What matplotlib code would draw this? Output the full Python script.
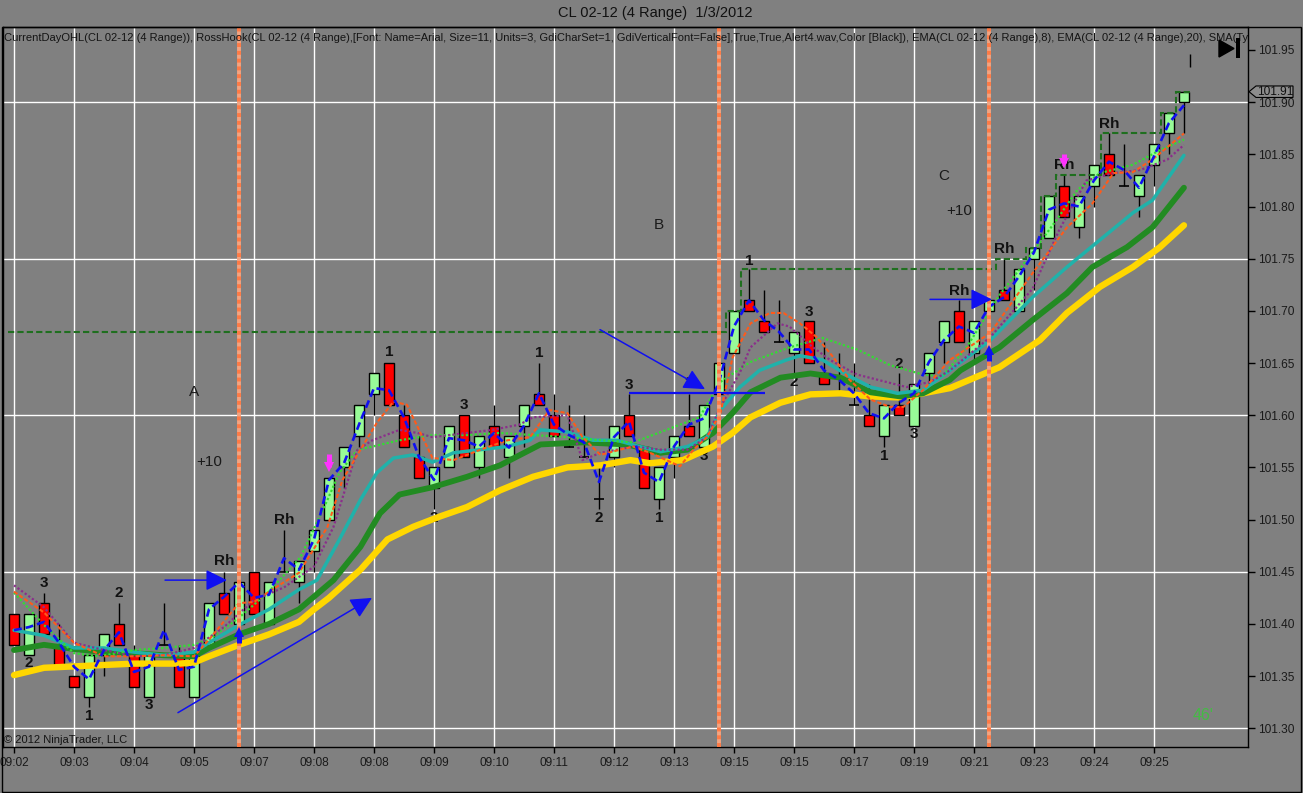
#######################################################################
# CL 02-12 (4 Range)  1/3/2012 - range bar chart in NinjaTrader style
#######################################################################

import matplotlib
matplotlib.use("Agg")
import matplotlib.pyplot as plt
from matplotlib.patches import Rectangle, Polygon

plt.rcParams['font.family'] = ['Liberation Sans', 'DejaVu Sans']

#######################################################################
# Data
#######################################################################
opens = [101.41, 101.37, 101.42, 101.38, 101.35, 101.33, 101.37, 101.40, 101.37, 101.33,
         101.38, 101.37, 101.33, 101.38, 101.43, 101.40, 101.45, 101.40, 101.45, 101.44,
         101.47, 101.50, 101.55, 101.58, 101.62, 101.65, 101.60, 101.56, 101.53, 101.55,
         101.60, 101.55, 101.59, 101.56, 101.59, 101.62, 101.60, 101.57, 101.56, 101.52,
         101.56, 101.60, 101.57, 101.52, 101.56, 101.59, 101.57, 101.62, 101.66, 101.71,
         101.69, 101.67, 101.66, 101.69, 101.64, 101.62, 101.61, 101.60, 101.58, 101.61,
         101.59, 101.64, 101.67, 101.70, 101.66, 101.70, 101.72, 101.70, 101.75, 101.77,
         101.82, 101.78, 101.82, 101.85, 101.82, 101.81, 101.84, 101.87, 101.90]
highs = [101.41, 101.41, 101.43, 101.40, 101.35, 101.37, 101.39, 101.42, 101.38, 101.37,
         101.42, 101.38, 101.37, 101.42, 101.45, 101.44, 101.45, 101.44, 101.49, 101.46,
         101.49, 101.54, 101.57, 101.61, 101.64, 101.65, 101.61, 101.58, 101.55, 101.59,
         101.60, 101.58, 101.61, 101.58, 101.61, 101.65, 101.62, 101.61, 101.60, 101.55,
         101.59, 101.62, 101.57, 101.55, 101.58, 101.62, 101.61, 101.65, 101.70, 101.74,
         101.72, 101.71, 101.68, 101.69, 101.67, 101.66, 101.65, 101.63, 101.61, 101.64,
         101.63, 101.66, 101.69, 101.71, 101.69, 101.71, 101.75, 101.74, 101.76, 101.81,
         101.83, 101.81, 101.84, 101.87, 101.86, 101.83, 101.86, 101.89, 101.91]
lows = [101.38, 101.37, 101.39, 101.36, 101.34, 101.32, 101.35, 101.38, 101.34, 101.33,
        101.38, 101.34, 101.33, 101.38, 101.41, 101.40, 101.41, 101.40, 101.45, 101.42,
        101.45, 101.50, 101.53, 101.57, 101.60, 101.61, 101.57, 101.54, 101.51, 101.55,
        101.56, 101.54, 101.57, 101.54, 101.57, 101.61, 101.58, 101.57, 101.56, 101.51,
        101.55, 101.58, 101.53, 101.51, 101.54, 101.58, 101.57, 101.61, 101.66, 101.70,
        101.68, 101.67, 101.64, 101.65, 101.63, 101.62, 101.61, 101.59, 101.57, 101.60,
        101.59, 101.62, 101.65, 101.67, 101.65, 101.70, 101.71, 101.70, 101.72, 101.77,
        101.79, 101.77, 101.80, 101.83, 101.82, 101.79, 101.82, 101.85, 101.87]
closes = [101.38, 101.41, 101.39, 101.36, 101.34, 101.37, 101.39, 101.38, 101.34, 101.37,
          101.38, 101.34, 101.37, 101.42, 101.41, 101.44, 101.41, 101.44, 101.45, 101.46,
          101.49, 101.54, 101.57, 101.61, 101.64, 101.61, 101.57, 101.54, 101.55, 101.59,
          101.56, 101.58, 101.57, 101.58, 101.61, 101.61, 101.58, 101.57, 101.56, 101.52,
          101.59, 101.58, 101.53, 101.55, 101.58, 101.58, 101.61, 101.65, 101.70, 101.70,
          101.68, 101.67, 101.68, 101.65, 101.63, 101.62, 101.61, 101.59, 101.61, 101.60,
          101.63, 101.66, 101.69, 101.67, 101.69, 101.71, 101.71, 101.74, 101.76, 101.81,
          101.79, 101.81, 101.84, 101.83, 101.82, 101.83, 101.86, 101.89, 101.91]

# fast dashed blue line, one point per bar
blue_val = [101.394, 101.397, 101.402, 101.382, 101.359, 101.347, 101.375, 101.392, 101.354, 101.359,
            101.394, 101.356, 101.359, 101.414, 101.426, 101.440, 101.425, 101.428, 101.463, 101.452,
            101.481, 101.538, 101.554, 101.591, 101.626, 101.624, 101.598, 101.560, 101.538, 101.578,
            101.576, 101.570, 101.583, 101.569, 101.590, 101.621, 101.591, 101.581, 101.574, 101.536,
            101.579, 101.594, 101.545, 101.536, 101.570, 101.591, 101.597, 101.632, 101.685, 101.710,
            101.691, 101.680, 101.663, 101.663, 101.643, 101.634, 101.621, 101.602, 101.597, 101.612,
            101.621, 101.651, 101.672, 101.685, 101.679, 101.704, 101.713, 101.733, 101.756, 101.797,
            101.803, 101.800, 101.825, 101.843, 101.835, 101.818, 101.848, 101.880, 101.897]

# moving averages: (bar position, price)
yellow_pos = [0, 2, 5, 8, 11, 12, 13, 15, 17, 19, 20, 21, 23.1, 24.9, 26.6, 28.4, 30.2, 32.4, 34.6,
              36.9, 39.1, 41.1, 42.4, 44.6, 46.6, 47.9, 49.1, 51.1, 53.1, 55.1, 57.1, 59.1, 60.6,
              62.4, 65.7, 68.4, 70.2, 72.4, 74.6, 76.4, 78]
yellow_val = [101.351, 101.358, 101.360, 101.362, 101.362, 101.363, 101.369, 101.380, 101.390,
              101.402, 101.414, 101.425, 101.452, 101.481, 101.493, 101.503, 101.512, 101.528,
              101.541, 101.550, 101.552, 101.557, 101.554, 101.557, 101.570, 101.583, 101.598,
              101.612, 101.620, 101.621, 101.618, 101.617, 101.621, 101.626, 101.646, 101.672,
              101.698, 101.723, 101.742, 101.761, 101.782]

green_pos = [0, 2, 4, 6, 8, 10, 12, 13, 15, 17, 19, 21.3, 23.1, 24.4, 25.7, 27.9, 30.2, 32.4, 35.1,
             37.9, 40.9, 43.1, 44.9, 46.6, 47.9, 49.1, 51.1, 53.1, 55.1, 57.1, 59.1, 60.6, 62.4,
             63.1, 65.7, 67.9, 70.2, 71.9, 74.2, 75.9, 78]
green_val = [101.375, 101.380, 101.376, 101.373, 101.372, 101.370, 101.369, 101.377, 101.390,
             101.400, 101.414, 101.442, 101.474, 101.506, 101.524, 101.531, 101.541, 101.552,
             101.572, 101.574, 101.572, 101.564, 101.567, 101.583, 101.602, 101.622, 101.636,
             101.640, 101.636, 101.622, 101.618, 101.621, 101.634, 101.643, 101.665, 101.691,
             101.717, 101.742, 101.761, 101.780, 101.818]

teal_pos = [0, 2, 4, 6, 8, 10, 12, 13, 15, 17, 19, 20.2, 21.7, 23.1, 24.2, 25.3, 26.6, 27.9, 29.3,
            31.1, 32.9, 34.4, 35.1, 36.9, 38.6, 40.2, 41.7, 43.1, 44.9, 46.2, 47.1, 48.4, 49.7,
            51.5, 52.4, 53.9, 55.5, 57.1, 58.9, 60.6, 62.4, 65.1, 67.9, 70.2, 72.4, 74.6, 75.9, 78]
teal_val = [101.394, 101.389, 101.377, 101.377, 101.373, 101.370, 101.373, 101.382, 101.399,
            101.414, 101.433, 101.442, 101.481, 101.519, 101.545, 101.559, 101.562, 101.555,
            101.564, 101.567, 101.570, 101.576, 101.586, 101.584, 101.576, 101.576, 101.570,
            101.565, 101.570, 101.579, 101.605, 101.627, 101.643, 101.653, 101.657, 101.653,
            101.639, 101.627, 101.621, 101.624, 101.643, 101.672, 101.713, 101.742, 101.768,
            101.794, 101.806, 101.849]

orange_pos = [0, 2, 4, 6, 8, 10, 12, 13, 15, 16, 17, 19, 20.9, 21.9, 23.1, 24.2, 25.3, 26.2, 27.1,
              27.9, 29.3, 31.1, 32.9, 34.4, 35.7, 36.9, 37.9, 39.1, 40.4, 41.3, 42.4, 43.5, 44.4,
              45.3, 46.2, 47.1, 47.9, 49.1, 50.4, 51.3, 52.4, 53.5, 54.6, 55.7, 57.1, 58.4, 59.3,
              60.6, 62.4, 65.1, 67.9, 70.2, 71.9, 73.3, 74.6, 75.9, 78]
orange_val = [101.431, 101.411, 101.382, 101.369, 101.369, 101.370, 101.369, 101.385, 101.420,
              101.421, 101.431, 101.449, 101.493, 101.538, 101.567, 101.593, 101.613, 101.610,
              101.583, 101.559, 101.557, 101.567, 101.576, 101.579, 101.605, 101.602, 101.579,
              101.562, 101.567, 101.570, 101.564, 101.557, 101.551, 101.567, 101.579, 101.602,
              101.655, 101.688, 101.698, 101.698, 101.688, 101.675, 101.656, 101.634, 101.615,
              101.608, 101.608, 101.624, 101.653, 101.679, 101.736, 101.780, 101.803, 101.832,
              101.833, 101.845, 101.870]

purple_pos = [0, 2, 4, 6, 8, 10, 12, 14, 16, 18, 20, 21.3, 22.9, 23.9, 25.7, 26.9, 27.9, 30.2, 31.9,
              33.7, 34.6, 36.9, 37.9, 39.1, 41.3, 43.1, 44.9, 46.2, 47.1, 48.4, 49.1, 50.9, 51.7,
              53.1, 54.4, 56.2, 58.4, 59.5, 61.1, 62.4, 65.1, 67.9, 69.7, 71.5, 73.3, 75.1, 76.9, 78]
purple_val = [101.437, 101.416, 101.382, 101.375, 101.369, 101.370, 101.377, 101.397, 101.423,
              101.435, 101.455, 101.493, 101.567, 101.576, 101.586, 101.583, 101.579, 101.583,
              101.586, 101.591, 101.598, 101.600, 101.557, 101.564, 101.570, 101.567, 101.567,
              101.579, 101.608, 101.641, 101.665, 101.688, 101.685, 101.667, 101.653, 101.639,
              101.631, 101.627, 101.632, 101.643, 101.675, 101.721, 101.778, 101.825, 101.832,
              101.835, 101.845, 101.859]

lgreen_pos = [0, 2, 4, 5.7, 8, 10, 12, 13, 15, 17, 19.1, 20.9, 21.7, 22.9, 23.9, 25.7, 27.9, 30.2,
              32.4, 34.6, 36.9, 39.1, 41.3, 45.7, 47.1, 49.1, 51.7, 53.9, 56.2, 58.4, 60.6, 61.9,
              63.5, 65.7, 67.9, 69.5, 70.9, 72.4, 74.6, 76.4, 78]
lgreen_val = [101.430, 101.399, 101.372, 101.369, 101.375, 101.377, 101.380, 101.385, 101.406,
              101.431, 101.464, 101.519, 101.545, 101.567, 101.570, 101.576, 101.581, 101.581,
              101.583, 101.581, 101.579, 101.576, 101.574, 101.598, 101.632, 101.651, 101.665,
              101.674, 101.663, 101.648, 101.639, 101.637, 101.665, 101.715, 101.756, 101.787,
              101.816, 101.832, 101.840, 101.854, 101.864]

# current day high (stepped dashed line)
cdh_edges = [-0.4, 47.5, 48.5, 65.5, 67.5, 68.5, 69.5, 72.5, 76.5, 77.5, 78.5]
cdh_levels = [101.68, 101.70, 101.74, 101.75, 101.76, 101.81, 101.83, 101.87, 101.89, 101.91]

# x axis labels every 4 bars
time_labels = ['09:02', '09:03', '09:04', '09:05', '09:07', '09:08', '09:08', '09:09', '09:10',
               '09:11', '09:12', '09:13', '09:15', '09:15', '09:17', '09:19', '09:21', '09:23',
               '09:24', '09:25']
price_ticks = [101.30, 101.35, 101.40, 101.45, 101.50, 101.55, 101.60, 101.65, 101.70,
               101.75, 101.80, 101.85, 101.90, 101.95]
price_grid = [101.30, 101.45, 101.60, 101.75, 101.90]

# session markers (vertical dotted lines)
session_bars = [15, 47, 65]

# RossHook labels: bar, price, text
hook_bars = [2, 1, 5, 7, 9, 14, 18, 25, 28, 30, 35, 39, 41, 43, 45, 46, 49, 52, 53,
             58, 59, 60, 63, 66, 70, 73]
hook_prices = [101.439, 101.363, 101.312, 101.430, 101.322, 101.460, 101.500, 101.661, 101.502,
               101.610, 101.660, 101.502, 101.629, 101.502, 101.631, 101.561, 101.748, 101.632,
               101.699, 101.561, 101.649, 101.582, 101.719, 101.759, 101.840, 101.879]
hook_texts = ['3', '2', '1', '2', '3', 'Rh', 'Rh', '1', '2', '3', '1', '2', '3', '1', '2', '3',
              '1', '2', '3', '1', '2', '3', 'Rh', 'Rh', 'Rh', 'Rh']

# hand notes
note_bars = [12, 13, 43, 62, 63]
note_prices = [101.622, 101.555, 101.782, 101.829, 101.796]
note_texts = ['A', '+10', 'B', 'C', '+10']

# drawn arrows: start bar, start price, end bar, end price
arrow_x0 = [10.07, 10.93, 39.07, 61.07]
arrow_y0 = [101.442, 101.315, 101.682, 101.711]
arrow_x1 = [14.2, 23.87, 46.07, 65.2]
arrow_y1 = [101.442, 101.425, 101.625, 101.711]

# small block arrows: bar, tail price, tip price
up_arrow_bars = [15, 65]
up_arrow_from = [101.382, 101.652]
up_arrow_to = [101.397, 101.667]
down_arrow_bars = [21, 70]
down_arrow_from = [101.563, 101.850]
down_arrow_to = [101.546, 101.837]

#######################################################################
# Style
#######################################################################
W, H = 1303, 793
BG = '#808080'
UP_COLOR = '#98fb98'
DOWN_COLOR = '#ff0000'
BLUE = '#1010f0'
MAGENTA = '#ff33ff'
BODY_W = 0.66

#######################################################################
# Functions
#######################################################################
def draw_candles(ax):
    """ Range bars: wick, body and doji tick """
    for i, (o, h, l, c) in enumerate(zip(opens, highs, lows, closes)):
        ax.vlines(i, l, h, color='black', lw=1, zorder=2)
        if abs(o - c) < 1e-6:
            ax.hlines(c, i - BODY_W / 2, i + BODY_W / 2, color='black', lw=1.2, zorder=2.5)
        else:
            col = UP_COLOR if c > o else DOWN_COLOR
            ax.add_patch(Rectangle((i - BODY_W / 2, min(o, c)), BODY_W, abs(c - o),
                                   fc=col, ec='black', lw=1, zorder=2.5))


def draw_arrow(ax, x0, y0, x1, y1):
    """ thin line with a big filled head """
    ax.annotate('', xy=(x1, y1), xytext=(x0, y0), zorder=7,
                arrowprops=dict(arrowstyle='-|>,head_length=0.65,head_width=0.32',
                                mutation_scale=20, color=BLUE, lw=1.1, shrinkA=0, shrinkB=0))


def draw_block_arrow(ax, x, y0, y1, color):
    """ short thick vertical arrow: shaft + triangle head """
    sign = 1 if y1 > y0 else -1
    head = 0.0045
    ax.plot([x, x], [y0, y1 - sign * head], color=color, lw=3.6, solid_capstyle='butt', zorder=7)
    ax.plot([x], [y1 - sign * head], marker='^' if sign > 0 else 'v', markersize=6.5,
            color=color, markeredgewidth=0, zorder=7)


def px_to_axes_x(px):
    """ figure pixel column -> axes fraction (axes span 3..1248 px) """
    return (px - 3) / 1245


#######################################################################
# Figure
#######################################################################
fig = plt.figure(figsize=(W / 100, H / 100), dpi=100, facecolor=BG)
ax = fig.add_axes([3 / W, 1 - 747 / H, (1248 - 3) / W, (747 - 27) / H])
ax.set_facecolor(BG)
ax.set_xlim(-0.733, 82.27)
ax.set_ylim(101.2821, 101.9720)

# grid
for p in price_grid:
    ax.axhline(p, color='white', lw=1, zorder=0.5)
xt = list(range(0, 4 * len(time_labels), 4))
for x in xt:
    ax.axvline(x, color='white', lw=1, zorder=0.5)

draw_candles(ax)

# hook labels under the lines
for b, p, t in zip(hook_bars, hook_prices, hook_texts):
    ax.text(b, p, t, ha='center', va='center', fontsize=11, fontweight='bold',
            color='#111111', zorder=3)
for b, p, t in zip(note_bars, note_prices, note_texts):
    ax.text(b, p, t, ha='center', va='center', fontsize=11, color='#1a1a1a', zorder=3)

# moving averages
ax.plot(yellow_pos, yellow_val, color='#ffd700', lw=4.6, solid_capstyle='round', zorder=4)
ax.plot(green_pos, green_val, color='#228b22', lw=4.2, solid_capstyle='round', zorder=4.1)
ax.plot(teal_pos, teal_val, color='#20b2aa', lw=2.5, solid_capstyle='round', zorder=4.2)
ax.plot(lgreen_pos, lgreen_val, color='#33dd33', lw=1.6, linestyle=(0, (1, 1)), zorder=4.3)
ax.plot(purple_pos, purple_val, color='#8b2f8b', lw=1.6, linestyle=(0, (1, 1)), zorder=4.4)
ax.plot(orange_pos, orange_val, color='#ff5a1a', lw=1.5, linestyle=(0, (2, 1)), zorder=4.5)
ax.plot(range(len(blue_val)), blue_val, color=BLUE, lw=1.9, linestyle=(0, (3, 1.5)), zorder=5)

# current day high
ax.stairs(cdh_levels, cdh_edges, baseline=None, color='#1f6f1f', lw=1.5,
          linestyle=(0, (3, 1.5)), zorder=4.6)

# session markers
for b in session_bars:
    ax.axvline(b, color='#f2a482', lw=2.8, zorder=6)
    ax.axvline(b, color='#ff7a45', lw=2.8, linestyle=(0, (1, 1)), zorder=6.1)

# arrows
for x0, y0, x1, y1 in zip(arrow_x0, arrow_y0, arrow_x1, arrow_y1):
    draw_arrow(ax, x0, y0, x1, y1)
ax.hlines(arrow_y1[2] - 0.004, 41, 50.07, color=BLUE, lw=1.6, zorder=6)
for b, y0, y1 in zip(up_arrow_bars, up_arrow_from, up_arrow_to):
    draw_block_arrow(ax, b, y0, y1, BLUE)
for b, y0, y1 in zip(down_arrow_bars, down_arrow_from, down_arrow_to):
    draw_block_arrow(ax, b, y0, y1, MAGENTA)

# small mark near the top right
ax.vlines(78.4, 101.934, 101.946, color='black', lw=1, zorder=5)

# axes and ticks
ax.set_xticks(xt)
ax.set_xticklabels(time_labels)
ax.set_yticks(price_ticks)
ax.set_yticklabels(['%.2f' % p for p in price_ticks])
ax.yaxis.tick_right()
ax.tick_params(axis='y', direction='out', length=5, width=1, pad=2, labelsize=8.6,
               colors='black', labelcolor='#1a1a1a')
ax.tick_params(axis='x', direction='out', length=4, width=1, pad=3, labelsize=8.6,
               colors='black', labelcolor='#1a1a1a')
for s in ax.spines.values():
    s.set_color('black')
    s.set_linewidth(1)

# texts
hdr = ('CurrentDayOHL(CL 02-12 (4 Range)), RossHook(CL 02-12 (4 Range),[Font: Name=Arial, '
       'Size=11, Units=3, GdiCharSet=1, GdiVerticalFont=False],True,True,Alert4.wav,'
       'Color [Black]), EMA(CL 02-12 (4 Range),8), EMA(CL 02-12 (4 Range),20), SMA(Typ')
ax.text(0.001, (747 - 38) / 720, hdr, transform=ax.transAxes, ha='left', va='center',
        fontsize=8.0, color='#141414', clip_on=True, zorder=8)
ax.text(0.001, (747 - 740) / 720, '\u00a9 2012 NinjaTrader, LLC', transform=ax.transAxes,
        ha='left', va='center', fontsize=8, color='#141414', zorder=8)
ax.text(px_to_axes_x(1203), (747 - 716) / 720, "46'", transform=ax.transAxes,
        ha='center', va='center', fontsize=11.5, color='#44bb44', zorder=8)
fig.text(655 / W, 1 - 13 / H, 'CL 02-12 (4 Range)  1/3/2012', ha='center', va='center',
         fontsize=10.5, color='#111111')

# last price marker: small box with a notch pointing at the axis
last = closes[-1]
half = 0.0055
box = Polygon([(px_to_axes_x(1249), last), (px_to_axes_x(1256), last + half),
               (px_to_axes_x(1293), last + half), (px_to_axes_x(1293), last - half),
               (px_to_axes_x(1256), last - half)], closed=True, fc='#8c8c8c', ec='black',
              lw=0.8, transform=ax.get_yaxis_transform(), clip_on=False, zorder=9)
ax.add_patch(box)
ax.text(px_to_axes_x(1275), last, '%.2f' % last, transform=ax.get_yaxis_transform(),
        ha='center', va='center', fontsize=8.6, color='#111111', clip_on=False, zorder=10)

# play/end icon
fig.patches.append(Polygon([(1219 / W, 1 - 40 / H), (1219 / W, 1 - 57 / H), (1234 / W, 1 - 48.5 / H)],
                           closed=True, fc='black', ec='black', transform=fig.transFigure))
fig.patches.append(Rectangle((1236 / W, 1 - 58 / H), 4 / W, 20 / H, fc='black', ec='none',
                             transform=fig.transFigure))

# outer frame
fig.patches.append(Rectangle((2 / W, 1 / H), 1299 / W, (792 - 27) / H, fill=False, ec='black',
                             lw=1, transform=fig.transFigure))

fig.savefig('out.png', dpi=100, facecolor=BG)
